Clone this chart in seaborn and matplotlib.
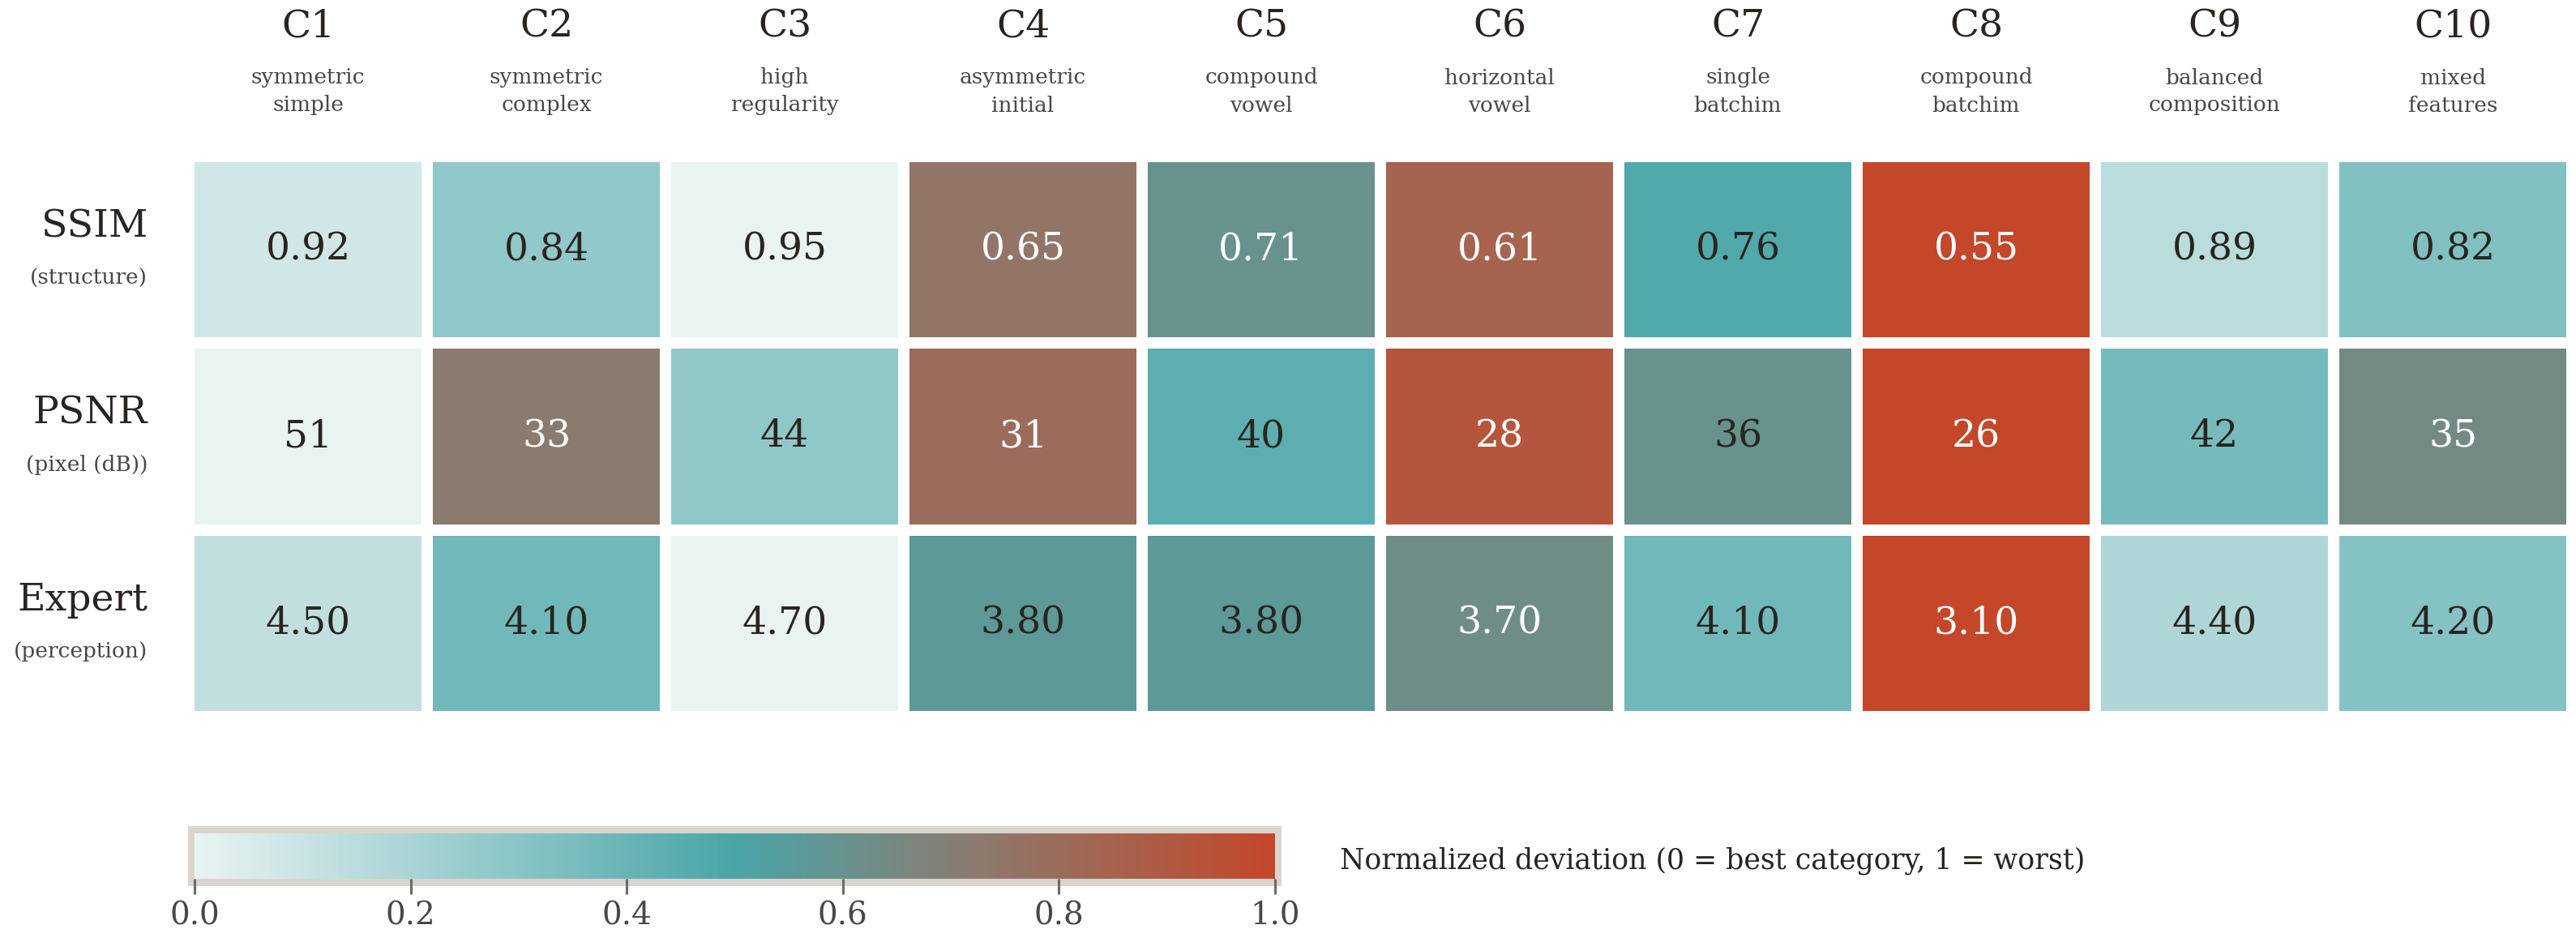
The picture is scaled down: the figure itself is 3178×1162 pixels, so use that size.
import numpy as np
import pandas as pd
import seaborn as sns
import matplotlib
matplotlib.use("Agg")
from matplotlib import pyplot as plt
from matplotlib.colors import LinearSegmentedColormap
from matplotlib.patches import Rectangle

# data
categories = ["C1", "C2", "C3", "C4", "C5", "C6", "C7", "C8", "C9", "C10"]
descriptions = ["symmetric\nsimple", "symmetric\ncomplex", "high\nregularity", "asymmetric\ninitial",
                "compound\nvowel", "horizontal\nvowel", "single\nbatchim", "compound\nbatchim",
                "balanced\ncomposition", "mixed\nfeatures"]
metrics = ["SSIM", "PSNR", "Expert"]
metric_notes = ["(structure)", "(pixel (dB))", "(perception)"]
ssim = [0.92, 0.84, 0.95, 0.65, 0.71, 0.61, 0.76, 0.55, 0.89, 0.82]
psnr = [51, 33, 44, 31, 40, 28, 36, 26, 42, 35]
expert = [4.50, 4.10, 4.70, 3.80, 3.80, 3.70, 4.10, 3.10, 4.40, 4.20]
formats = ["{:.2f}", "{:.0f}", "{:.2f}"]

W, H = 3178, 1162
DPI = 200
FONT = "DejaVu Serif"
DARK = "#2a2420"

sns.set_theme(style="white")
plt.rcParams["font.family"] = [FONT, "DejaVu Sans"]

raw = np.array([ssim, psnr, expert], dtype=float)
# higher is better for every metric -> 0 = best category, 1 = worst
vmax = raw.max(axis=1, keepdims=True)
vmin = raw.min(axis=1, keepdims=True)
norm = (vmax - raw) / (vmax - vmin)
norm_df = pd.DataFrame(norm, index=metrics, columns=categories)
labels = np.array([[formats[i].format(v) for v in row] for i, row in enumerate(raw)])

cmap = LinearSegmentedColormap.from_list(
    "dev", [(0.0, "#e9f3f2"), (0.5, "#49a5a7"), (0.72, "#8b7b6f"), (1.0, "#c4472a")])


def fx(px):
    return px / W


def fy(py):
    return 1 - py / H


fig = plt.figure(figsize=(W / DPI, H / DPI), dpi=DPI)
fig.patch.set_facecolor("white")

# heatmap area (half gap outside the cells)
x0, x1 = 233, 3173
y0, y1 = 193, 884
ax = fig.add_axes([fx(x0), fy(y1), fx(x1 - x0), (y1 - y0) / H])
sns.heatmap(norm_df, ax=ax, cmap=cmap, vmin=0, vmax=1, cbar=False,
            linewidths=5, linecolor="white",
            annot=labels, fmt="", annot_kws={"fontsize": 17, "family": FONT})
for t, v in zip(ax.texts, norm.ravel()):
    t.set_color("white" if v > 0.6 else DARK)

ax.set_xticks([])
ax.set_yticks([])
ax.set_xlabel("")
ax.set_ylabel("")
for s in ax.spines.values():
    s.set_visible(False)

# column headers
for j, (c, d) in enumerate(zip(categories, descriptions)):
    xc = fx(x0) + fx(x1 - x0) * (j + 0.5) / len(categories)
    fig.text(xc, fy(33), c, ha="center", va="center", fontsize=17, color=DARK)
    fig.text(xc, fy(113), d, ha="center", va="center", fontsize=9.5,
             color="#4a4643", linespacing=1.45)

# row labels
row_centers = [308, 538, 768]
for m, note, yc in zip(metrics, metric_notes, row_centers):
    fig.text(fx(182), fy(yc - 28), m, ha="right", va="center", fontsize=17, color=DARK)
    fig.text(fx(182), fy(yc + 35), note, ha="right", va="center", fontsize=9.5, color="#4a4643")

# colorbar with light frame
fig.add_artist(Rectangle((fx(232), fy(1093)), fx(1581 - 232), (1093 - 1019) / H,
                         transform=fig.transFigure, facecolor="#d9d5ce", edgecolor="none", zorder=-1))
cax = fig.add_axes([fx(240), fy(1084), fx(1573 - 240), (1084 - 1028) / H])
cb = fig.colorbar(ax.collections[0], cax=cax, orientation="horizontal")
cb.outline.set_visible(False)
cb.set_ticks([0.0, 0.2, 0.4, 0.6, 0.8, 1.0])
cb.ax.set_xticklabels(["0.0", "0.2", "0.4", "0.6", "0.8", "1.0"])
cax.tick_params(axis="x", direction="out", length=7, width=1.1, color="#6b6b6b",
                labelsize=14, labelcolor="#4a4643", pad=3, bottom=True)
fig.text(fx(1653), fy(1062), "Normalized deviation (0 = best category, 1 = worst)",
         ha="left", va="center", fontsize=12.5, color=DARK)

fig.savefig("out.png", dpi=DPI, facecolor="white")
